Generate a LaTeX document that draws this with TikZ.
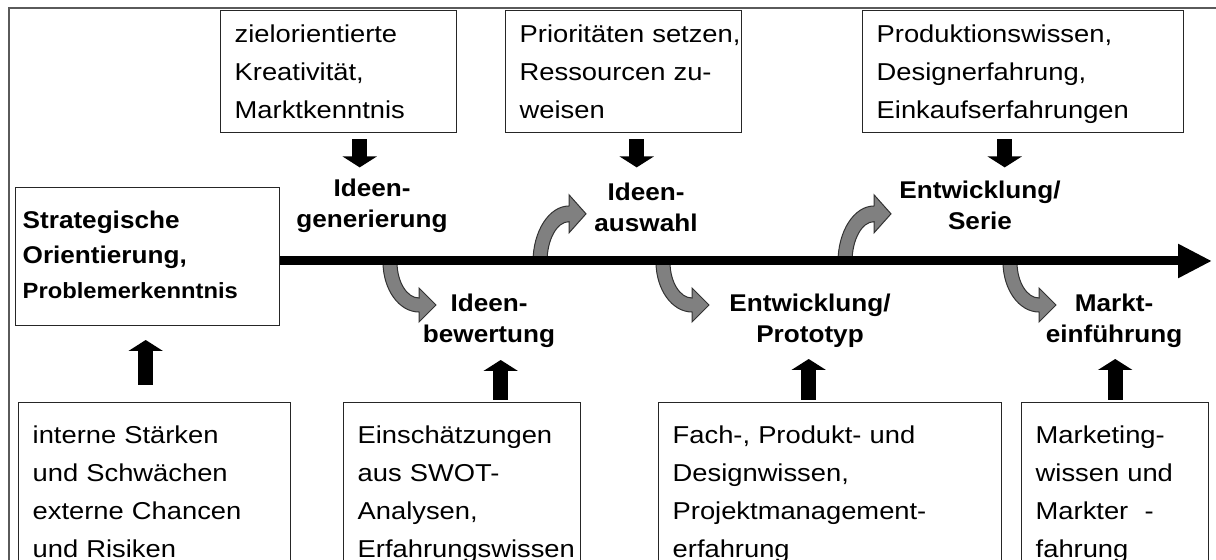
\documentclass[tikz,border=0pt]{standalone}
\usepackage{fontspec}
\setmainfont{Liberation Sans}[FakeStretch=1.12]
\newfontfamily\stagefont{Liberation Sans}[FakeStretch=1.08]
\usetikzlibrary{arrows.meta}

\definecolor{bendgray}{RGB}{128,128,128}
\definecolor{framegray}{RGB}{90,90,90}

\tikzset{
  infobox/.style={draw=black!85, line width=0.7pt, anchor=north west, align=left,
    inner xsep=7pt, inner ysep=0pt, text height=16pt,
    font=\fontsize{12.2}{19}\selectfont},
  stage/.style={align=center, inner sep=0pt,
    font=\stagefont\bfseries\fontsize{12.1}{15.5}\selectfont},
  blockarrow/.style={line width=7.5pt, -{Triangle[width=17pt,length=5.5pt]}},
  timeline/.style={line width=4.5pt, -{Triangle[width=16pt,length=17pt]}},
  % gray bent arrow, starts at (0,0) going down and turns right
  bend arrow/.pic={
    \filldraw[fill=bendgray, draw=black!80, line width=0.5pt]
      (-7,0) arc[start angle=180, end angle=90, x radius=36, y radius=50]
      -- (29,60) -- (46,43) -- (29,26) -- (29,36)
      arc[start angle=90, end angle=180, x radius=22, y radius=36] -- cycle;
  }
}

\begin{document}
\begin{tikzpicture}[x=0.5pt, y=-0.5pt]
    \useasboundingbox (0,0) rectangle (1216,560);
    \draw[framegray, line width=1pt] (9,600) |- (1230,8);

    % knowledge boxes above the time line
    \node[infobox, text width=104pt, text depth=45pt] (ziel) at (220,10)
        {zielorientierte\\Kreativität,\\Marktkenntnis};
    \node[infobox, text width=104pt, text depth=45pt] (prio) at (505,10)
        {\mbox{Prioritäten setzen,}\\Ressourcen zu-\\weisen};
    \node[infobox, text width=146.5pt, text depth=45pt] (prod) at (862,10)
        {Produktionswissen,\\Designerfahrung,\\Einkaufserfahrungen};

    % starting point
    \node[infobox, inner xsep=3.5pt, text width=125pt, text height=20.5pt, text depth=48.5pt,
        font=\stagefont\bfseries\fontsize{12.1}{17.5}\selectfont] (strat) at (15,187)
        {Strategische\\Orientierung,\\{\fontsize{11}{17.5}\selectfont Problemerkenntnis}};

    % knowledge boxes below the time line
    \node[infobox, text height=20.5pt, text width=122pt, text depth=100pt] (swot) at (18,402)
        {interne Stärken\\und Schwächen\\externe Chancen\\und Risiken};
    \node[infobox, text height=20.5pt, text width=104.5pt, text depth=100pt] (einsch) at (343,402)
        {Einschätzungen\\aus SWOT-\\Analysen,\\\mbox{Erfahrungswissen}};
    \node[infobox, text height=20.5pt, text width=157.5pt, text depth=100pt] (fach) at (658,402)
        {Fach-, Produkt- und\\Designwissen,\\Projektmanagement-\\erfahrung};
    \node[infobox, text height=20.5pt, text width=79.5pt, text depth=100pt] (mkt) at (1021,402)
        {Marketing-\\wissen und\\Markter\ \ -\\fahrung};

    % stages
    \node[stage] (gen) at (372,206) {Ideen-\\generierung};
    \node[stage] (ausw) at (646,207) {Ideen-\\auswahl};
    \node[stage] (serie) at (980,205) {Entwicklung/\\Serie};
    \node[stage] (bew) at (489,321) {Ideen-\\bewertung};
    \node[stage] (proto) at (810,321) {Entwicklung/\\Prototyp};
    \node[stage] (einf) at (1114,321) {Markt-\\einführung};

    % bent arrows off the time line
    \pic at (390,262) {bend arrow};
    \pic at (663,262) {bend arrow};
    \pic at (1010,262) {bend arrow};
    \pic[yscale=-1.12] at (540,262) {bend arrow};
    \pic[yscale=-1.12] at (845,262) {bend arrow};

    % time line
    \coordinate (tlend) at (1212,261);
    \draw[timeline] (strat.east |- tlend) -- (tlend);

    % input arrows
    \draw[blockarrow] ([xshift=10.5pt,yshift=-3pt]ziel.south) -- ++(0,28);
    \draw[blockarrow] ([xshift=6.5pt,yshift=-3pt]prio.south) -- ++(0,28);
    \draw[blockarrow] ([xshift=-9.25pt,yshift=-3pt]prod.south) -- ++(0,28);
    \draw[blockarrow] ([xshift=-4.5pt,yshift=8.5pt]swot.north) -- ++(0,-45);
    \draw[blockarrow] ([xshift=19.25pt,yshift=1pt]einsch.north) -- ++(0,-40);
    \draw[blockarrow] ([xshift=-10.75pt,yshift=1pt]fach.north) -- ++(0,-41);
    \draw[blockarrow] ([yshift=1pt]mkt.north) -- ++(0,-41);
\end{tikzpicture}
\end{document}
